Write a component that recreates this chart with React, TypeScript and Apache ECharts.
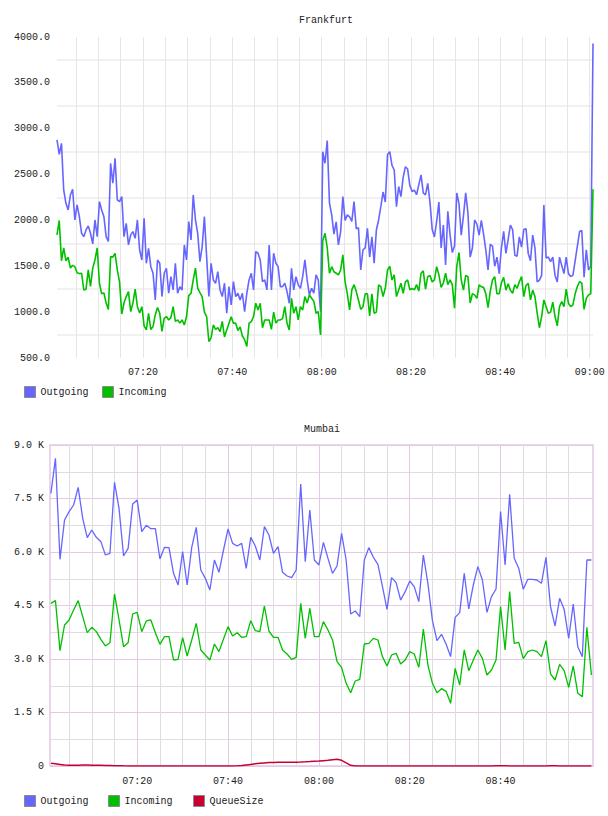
import React, { useEffect, useRef } from "react";
import * as echarts from "echarts";

const FONT = '"Liberation Mono", "DejaVu Sans Mono", monospace';
const TEXT_COLOR = "#222";
const BLUE = "#6666ff";
const GREEN = "#00c000";
const RED = "#c80032";

// Frankfurt: one sample every 30 s, first sample at 07:00:45 (minutes since midnight)
const fraStart = 420.75;
const fraStep = 0.5;
const fraOutgoing = [
  2877, 2720, 2840, 2332, 2187, 2114, 2278, 2340, 2005, 2169,
  2041, 1860, 1823, 1896, 1940, 1860, 1745, 2005, 1823, 2205,
  2114, 2041, 1823, 1770, 2623, 2405, 2677, 2223, 2205, 2260,
  1823, 1969, 1733, 1842, 1878, 1805, 2005, 1678, 1569, 2023,
  1533, 1696, 1496, 1424, 1133, 1569, 1533, 1170, 1424, 1478,
  1206, 1387, 1242, 1533, 1206, 1278, 1242, 1733, 1569, 1987,
  1787, 2278, 2005, 1860, 1551, 1714, 2041, 1605, 1170, 1533,
  1351, 1315, 1442, 1242, 1170, 1315, 988, 1278, 1080, 1333,
  1170, 1206, 1133, 1206, 1006, 1206, 1351, 1424, 1242, 1660,
  1642, 1569, 1333, 1351, 1242, 1733, 1242, 1642, 1533, 1496,
  1278, 1278, 1315, 1224, 1097, 1478, 1242, 1387, 1297, 1260,
  1387, 1569, 1351, 1188, 1260, 1206, 1406, 1351, 1006, 2750,
  2623, 2870, 2190, 2060, 1850, 1985, 1733, 1878, 2260, 2000,
  2060, 2040, 1990, 2205, 1910, 1920, 1460, 1680, 1700, 1914,
  1600, 1820, 1533, 1896, 2005, 2150, 2310, 2200, 2720, 2750,
  2600, 2550, 2150, 2370, 2260, 2470, 2586, 2560, 2380, 2315,
  2330, 2280, 2390, 2496, 2300, 2278, 2405, 2200, 1900, 1820,
  1990, 2200, 1700, 1950, 1515, 2100, 1840, 1650, 1720, 2300,
  2180, 1840, 2050, 2300, 2080, 1600, 1700, 2005, 1960, 1840,
  2000, 1850, 1680, 1460, 1740, 1720, 1500, 1600, 1420, 1700,
  1880, 1640, 1790, 1950, 1900, 1620, 1610, 1820, 1710, 1900,
  1910, 1640, 1560, 1840, 1700, 1330, 1350, 1400, 2169, 1590,
  1600, 1550, 1600, 1400, 1330, 1600, 1510, 1420, 1600, 1420,
  1390, 1400, 1560, 1720, 1880, 1890, 1380, 1680, 1460, 1500,
  3930,
];
const fraIncoming = [
  1842, 2000, 1560, 1700, 1560, 1600, 1480, 1510, 1496, 1430,
  1420, 1424, 1242, 1250, 1460, 1280, 1480, 1569, 1700, 1315,
  1200, 1210, 1100, 1030, 1605, 1600, 1640, 1460, 1330, 980,
  1100, 1170, 1224, 1006, 1100, 1250, 1060, 990, 1060, 850,
  806, 988, 810, 843, 970, 1050, 988, 790, 933, 952,
  915, 940, 1060, 900, 915, 880, 915, 860, 952, 1180,
  1206, 1351, 1480, 1260, 1213, 1170, 1000, 952, 680, 720,
  861, 813, 830, 788, 900, 730, 806, 880, 950, 879,
  880, 800, 840, 740, 700, 625, 880, 897, 952, 1097,
  1024, 1097, 830, 915, 915, 915, 813, 1000, 880, 915,
  915, 930, 1060, 879, 806, 1150, 988, 1060, 915, 1060,
  1024, 1170, 1100, 1188, 1151, 1120, 988, 1006, 752, 1780,
  1860, 1700, 1424, 1496, 1440, 1424, 1406, 1460, 1624, 1330,
  1200, 1024, 1240, 1300, 1224, 1130, 1030, 1060, 1200, 1200,
  960, 1200, 988, 1000, 1297, 1278, 1170, 1260, 1460, 1500,
  1350, 1406, 1170, 1242, 1315, 1206, 1330, 1351, 1242, 1260,
  1242, 1300, 1230, 1424, 1450, 1250, 1387, 1400, 1330, 1351,
  1496, 1406, 1270, 1320, 1424, 1300, 1351, 1300, 1042, 1500,
  1650, 1351, 1240, 1400, 1387, 1100, 1200, 1188, 1150, 1297,
  1278, 1270, 1200, 1050, 1230, 1351, 1387, 1200, 1200, 1320,
  1380, 1240, 1310, 1240, 1206, 1300, 1260, 1330, 1387, 1170,
  1290, 1315, 1133, 1240, 1170, 990, 830, 952, 1133, 1060,
  988, 1000, 1110, 952, 850, 1060, 1115, 1060, 1250, 1097,
  1060, 1080, 1200, 1280, 1333, 1315, 1030, 1150, 1188, 1200,
  2340,
];

// Mumbai: one sample per minute, first sample at 07:01
const mumStart = 421;
const mumStep = 1;
const mumOutgoing = [
  7645, 8626, 5795, 6897, 7131, 7318, 7813, 6944, 6402, 6617,
  6411, 6290, 5916, 5963, 7953, 7224, 5888, 6103, 7346, 7458,
  6570, 6748, 6654, 6654, 5804, 6131, 6122, 5402, 5075, 6010,
  5075, 6131, 6692, 5495, 5262, 4935, 5776, 5430, 6056, 6645,
  6243, 6168, 6243, 5542, 6411, 6168, 5776, 6710, 6477, 5963,
  6150, 5430, 5327, 5280, 5495, 7907, 5729, 7178, 5776, 5636,
  6271, 5822, 5402, 5608, 6524, 5776, 4262, 4346, 4187, 5776,
  6122, 5851, 5654, 5028, 4393, 5280, 5140, 4654, 4888, 5187,
  5028, 4608, 5916, 5122, 4075, 3514, 3692, 3421, 3066, 4168,
  4299, 5402, 4402, 5075, 5589, 5215, 4309, 4748, 4963, 7131,
  5636, 7617, 5822, 5542, 4953, 5234, 5234, 5215, 5122, 5851,
  4467, 3925, 4701, 4393, 3580, 4542, 3346, 3066, 5776, 5776,
];
const mumIncoming = [
  4561, 4636, 3234, 3953, 4094, 4374, 4636, 4187, 3738, 3888,
  3767, 3551, 3365, 3458, 4823, 4094, 3346, 3458, 4262, 4309,
  3767, 4066, 4094, 3738, 3411, 3626, 3626, 2972, 2991, 3598,
  3084, 3533, 4000, 3252, 3112, 2972, 3421, 3206, 3561, 3907,
  3645, 3738, 3608, 3626, 4075, 3794, 3767, 4486, 3785, 3608,
  3608, 3252, 3140, 2991, 3047, 4561, 3580, 4421, 3626, 3626,
  4047, 3813, 3533, 2925, 2766, 2318, 2056, 2383, 2430, 3421,
  3439, 3580, 3533, 3066, 2804, 3112, 3159, 2860, 2972, 3206,
  3140, 2766, 3841, 2832, 2318, 2056, 2168, 2094, 1757, 2738,
  2271, 3252, 2673, 2972, 3252, 3019, 2552, 2692, 2972, 4467,
  3252, 4888, 3439, 3467, 3010, 3206, 3252, 3206, 3066, 3514,
  2580, 2411, 2851, 2673, 2206, 2804, 2037, 1944, 3888, 2552,
];
const mumQueue = [
  75, 60, 45, 30, 20, 18, 22, 25, 26, 24,
  22, 18, 14, 11, 8, 6, 4, 3, 2, 1,
  0, 0, 0, 0, 0, 0, 0, 0, 0, 0,
  0, 0, 0, 0, 0, 0, 0, 0, 0, 0,
  0, 5, 15, 30, 45, 60, 75, 85, 95, 100,
  104, 105, 105, 105, 108, 112, 118, 125, 133, 140,
  150, 160, 178, 187, 160, 90, 20, 0, 0, 0,
  0, 0, 0, 0, 0, 0, 0, 0, 0, 0,
  0, 0, 0, 0, 0, 0, 0, 0, 0, 0,
  0, 0, 0, 0, 0, 0, 0, 0, 4, 6,
  4, 0, 0, 0, 0, 0, 0, 0, 0, 0,
  5, 7, 3, 0, 0, 0, 0, 0, 0, 0,
];

// Axis ticks (minutes since midnight)
const fraGridMinutes = [
  425, 430, 435, 440, 445, 450, 455, 460, 465, 470, 475, 480,
  485, 490, 495, 500, 505, 510, 515, 520, 525, 530, 535, 540,
];
const fraLabelMinutes = [440, 460, 480, 500, 520, 540];
const mumGridMinutes = [
  425, 430, 435, 440, 445, 450, 455, 460, 465, 470, 475, 480,
  485, 490, 495, 500, 505, 510, 515, 520, 525, 530, 535,
];
const mumLabelMinutes = [440, 460, 480, 500, 520];

const pad = (n: number) => String(n).padStart(2, "0");
const fmtTime = (v: number) => {
  const h = Math.floor(v / 60);
  const m = Math.round(v - h * 60);
  return `${pad(h)}:${pad(m)}`;
};
const toPairs = (vals: number[], start: number, step: number) =>
  vals.map((v, i) => [start + i * step, v]);

const textStyle = { fontFamily: FONT, fontSize: 10, color: TEXT_COLOR };

const legendBase = {
  orient: "horizontal" as const,
  padding: 0,
  icon: "rect",
  itemWidth: 11,
  itemHeight: 11,
  selectedMode: false,
  itemStyle: { borderColor: "#8a8a8a", borderWidth: 1 },
  textStyle,
};

const MINOR = "#dedede";
const MAJOR = "#e3c9e3";

export default function App() {
  const ref = useRef<HTMLDivElement>(null);

  useEffect(() => {
    if (!ref.current) return;
    const chart = echarts.init(ref.current, null, { renderer: "svg" });

    const lineSeries = (
      name: string,
      data: number[][],
      color: string,
      gridIdx: number,
      width: number
    ) => ({
      type: "line",
      name,
      data,
      xAxisIndex: gridIdx,
      yAxisIndex: gridIdx,
      showSymbol: false,
      symbol: "none",
      color,
      lineStyle: { color, width },
      itemStyle: { color },
      emphasis: { disabled: true },
    });

    chart.setOption({
      animation: false,
      backgroundColor: "#ffffff",
      graphic: [
        {
          type: "text",
          x: 326,
          y: 20,
          style: {
            text: "Frankfurt",
            font: `10px ${FONT}`,
            fill: TEXT_COLOR,
            align: "center",
            verticalAlign: "middle",
          },
        },
        {
          type: "text",
          x: 322,
          y: 429,
          style: {
            text: "Mumbai",
            font: `10px ${FONT}`,
            fill: TEXT_COLOR,
            align: "center",
            verticalAlign: "middle",
          },
        },
      ],
      legend: [
        { ...legendBase, data: ["Outgoing"], left: 24, top: 386 },
        { ...legendBase, data: ["Incoming"], left: 102, top: 386 },
        { ...legendBase, data: ["Outgoing"], left: 24, top: 795 },
        { ...legendBase, data: ["Incoming"], left: 108, top: 795 },
        { ...legendBase, data: ["QueueSize"], left: 193, top: 795 },
      ],
      grid: [
        {
          left: 57,
          top: 37,
          width: 536,
          height: 321,
          show: false,
          outerBoundsMode: "none",
        },
        {
          left: 50,
          top: 445,
          width: 543,
          height: 321,
          show: true,
          borderColor: MAJOR,
          borderWidth: 1.5,
          outerBoundsMode: "none",
        },
      ],
      xAxis: [
        {
          gridIndex: 0,
          type: "value",
          min: 420.75,
          max: 540.75,
          axisLine: { show: false },
          axisTick: { show: false, customValues: fraGridMinutes },
          axisLabel: {
            customValues: fraLabelMinutes,
            formatter: fmtTime,
            margin: 9,
            ...textStyle,
          },
          splitLine: { show: true, lineStyle: { color: "#e6e6e6", width: 1 } },
        },
        {
          gridIndex: 1,
          type: "value",
          min: 420.8,
          max: 540.35,
          axisLine: { show: false },
          axisTick: { show: false, customValues: mumGridMinutes },
          axisLabel: {
            customValues: mumLabelMinutes,
            formatter: fmtTime,
            margin: 10,
            ...textStyle,
          },
          splitLine: {
            show: true,
            lineStyle: { color: [MINOR, MINOR, MINOR, MAJOR], width: 1 },
          },
        },
      ],
      yAxis: [
        {
          gridIndex: 0,
          type: "value",
          min: 500,
          max: 4000,
          interval: 250,
          axisLine: { show: false },
          axisTick: { show: false },
          axisLabel: {
            formatter: (v: number) => (v % 500 === 0 ? v.toFixed(1) : ""),
            margin: 7,
            ...textStyle,
          },
          splitLine: {
            show: true,
            lineStyle: { color: ["rgba(0,0,0,0)", "#f1f1f1"], width: 2 },
          },
        },
        {
          gridIndex: 1,
          type: "value",
          min: 0,
          max: 9000,
          interval: 750,
          axisLine: { show: false },
          axisTick: { show: false },
          axisLabel: {
            formatter: (v: number) =>
              v % 1500 === 0 ? (v === 0 ? "0" : `${(v / 1000).toFixed(1)} K`) : "",
            margin: 6,
            ...textStyle,
          },
          splitLine: {
            show: true,
            lineStyle: { color: [MAJOR, MINOR], width: 1 },
          },
        },
      ],
      series: [
        lineSeries("Outgoing", toPairs(fraOutgoing, fraStart, fraStep), BLUE, 0, 1.6),
        lineSeries("Incoming", toPairs(fraIncoming, fraStart, fraStep), GREEN, 0, 1.6),
        lineSeries("Outgoing", toPairs(mumOutgoing, mumStart, mumStep), BLUE, 1, 1.3),
        lineSeries("Incoming", toPairs(mumIncoming, mumStart, mumStep), GREEN, 1, 1.3),
        lineSeries("QueueSize", toPairs(mumQueue, mumStart, mumStep), RED, 1, 1.5),
      ],
    });

    return () => chart.dispose();
  }, []);

  return (
    <div
      ref={ref}
      style={{ position: "absolute", left: 0, top: 0, width: 608, height: 816 }}
    />
  );
}
